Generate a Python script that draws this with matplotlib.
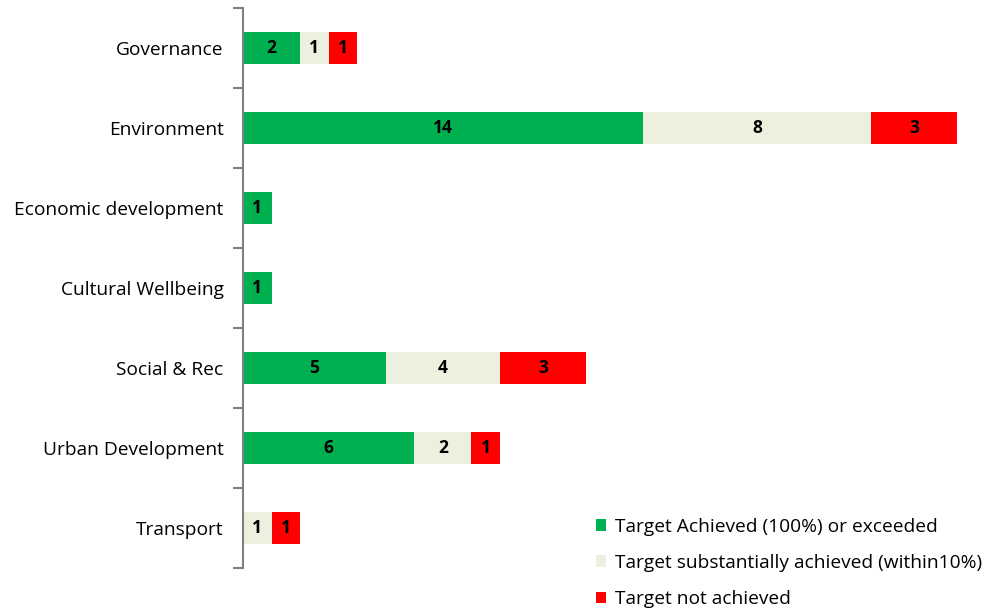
#!/usr/bin/env python3
"""Stacked horizontal bars of target achievement per activity group."""
import matplotlib
matplotlib.use('Agg')
import matplotlib.pyplot as plt
import numpy as np

categories = ['Governance', 'Environment', 'Economic development',
              'Cultural Wellbeing', 'Social & Rec', 'Urban Development',
              'Transport']
achieved = [2, 14, 1, 1, 5, 6, 0]
substantial = [1, 8, 0, 0, 4, 2, 1]
not_achieved = [1, 3, 0, 0, 3, 1, 1]

series = [
    ('Target Achieved (100%) or exceeded', achieved, '#00B050'),
    ('Target substantially achieved (within10%)', substantial, '#EBF1DE'),
    ('Target not achieved', not_achieved, '#FF0000'),
]

plt.rcParams['font.family'] = ['Open Sans', 'DejaVu Sans']

fig = plt.figure(figsize=(9.93, 6.09), dpi=100)
ax = fig.add_axes([243 / 993, 1 - 568 / 609, (957 - 243) / 993, 560 / 609])

pos = np.arange(len(categories))
left = np.zeros(len(categories))
handles = []
for label, vals, color in series:
    vals = np.array(vals, dtype=float)
    bars = ax.barh(pos, vals, left=left, height=0.4, color=color, label=label)
    handles.append(bars)
    for p, l, v in zip(pos, left, vals):
        if v > 0:
            ax.text(l + v / 2, p, '%d' % v, ha='center', va='center',
                    fontsize=12.5, fontweight='bold', color='black')
    left += vals

ax.set_xlim(0, 25)
ax.set_ylim(len(categories) - 0.5, -0.5)
ax.set_yticks(pos)
ax.set_yticklabels(categories, fontsize=13.8)
ax.set_yticks(np.arange(len(categories) + 1) - 0.5, minor=True)
ax.tick_params(axis='y', which='major', length=0, pad=14)
ax.tick_params(axis='y', which='minor', length=7, width=1.5, color='#808080')
ax.xaxis.set_visible(False)
for side in ('top', 'right', 'bottom'):
    ax.spines[side].set_visible(False)
ax.spines['left'].set_color('#808080')
ax.spines['left'].set_linewidth(1.5)

fig.legend(handles=handles, loc='upper left',
           bbox_to_anchor=(588 / 993, 1 - 510 / 609), frameon=False,
           fontsize=13.8, handlelength=0.55, handleheight=0.55,
           handletextpad=0.45, labelspacing=0.95, borderaxespad=0)

fig.savefig('out.png', dpi=100)
